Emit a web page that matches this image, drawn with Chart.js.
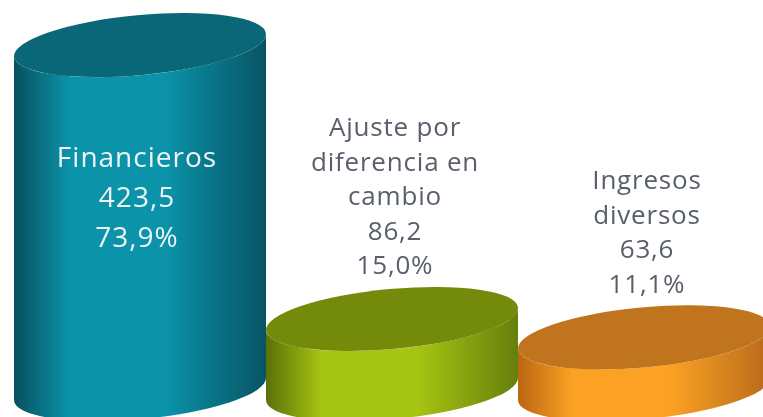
<!DOCTYPE html>
<html>
<head>
<meta charset="utf-8">
<script src="https://cdn.jsdelivr.net/npm/chart.js@4.4.1/dist/chart.umd.min.js"></script>
<style>
  html, body { margin: 0; padding: 0; background: #fff; overflow: hidden; }
  #wrap { position: relative; width: 790px; height: 417px; }
</style>
</head>
<body>
<div id="wrap"><canvas id="chart"></canvas></div>
<script>
/* ================= DATA ================= */
const categories = [['Financieros'], ['Ajuste por', 'diferencia en', 'cambio'], ['Ingresos', 'diversos']];
const values = [423.5, 86.2, 63.6];
const shares = [73.9, 15.0, 11.1];

/* ================= STYLE ================= */
const palette = [
  { top: '#0a6777', edge: '#07505e', mid: '#0b93aa', edge2: '#075463' },
  { top: '#748a0b', edge: '#5a7108', mid: '#a6c412', edge2: '#667f0c' },
  { top: '#c0741e', edge: '#bb6612', mid: '#fba224', edge2: '#b96a1a' }
];
const TILT = -0.092;   // ellipse rotation (right side higher)
const RY = 30;         // ellipse minor radius

const fmt = n => n.toFixed(1).replace('.', ',');

/* ================= CYLINDER PLUGIN ================= */
function ellipseGeom(halfW) {
  const s = Math.sin(TILT), c = Math.cos(TILT);
  const a = Math.sqrt((halfW * halfW - RY * RY * s * s) / (c * c));
  const t0 = Math.atan2(-RY * s, a * c);
  return { a, t0, s, c };
}
function pointAt(cx, cy, g, t) {
  return {
    x: cx + g.a * Math.cos(t) * g.c - RY * Math.sin(t) * g.s,
    y: cy + g.a * Math.cos(t) * g.s + RY * Math.sin(t) * g.c
  };
}

const cylinders = {
  id: 'cylinders',
  afterDatasetsDraw(chart) {
    const ctx = chart.ctx;
    const meta = chart.getDatasetMeta(0);
    meta.data.forEach((bar, i) => {
      const { x, y, base, width } = bar.getProps(['x', 'y', 'base', 'width'], true);
      const halfW = width / 2;
      const g = ellipseGeom(halfW);
      const tl = pointAt(x, y, g, g.t0 + Math.PI);
      const bl = pointAt(x, base, g, g.t0 + Math.PI);
      const tr = pointAt(x, y, g, g.t0);
      const col = palette[i];

      ctx.save();
      // body
      const grad = ctx.createLinearGradient(x - halfW, 0, x + halfW, 0);
      grad.addColorStop(0, col.edge);
      grad.addColorStop(0.22, col.mid);
      grad.addColorStop(0.6, col.mid);
      grad.addColorStop(1, col.edge2);
      ctx.beginPath();
      ctx.moveTo(tl.x, tl.y);
      ctx.lineTo(bl.x, bl.y);
      ctx.ellipse(x, base, g.a, RY, TILT, g.t0 + Math.PI, g.t0, true);
      ctx.lineTo(tr.x, tr.y);
      ctx.ellipse(x, y, g.a, RY, TILT, g.t0, g.t0 + Math.PI, false);
      ctx.closePath();
      ctx.fillStyle = grad;
      ctx.fill();
      // top
      ctx.beginPath();
      ctx.ellipse(x, y, g.a, RY, TILT, 0, Math.PI * 2);
      ctx.fillStyle = col.top;
      ctx.fill();

      // labels
      const lines = categories[i].concat([fmt(values[i]), fmt(shares[i]) + '%']);
      ctx.textAlign = 'center';
      ctx.textBaseline = 'middle';
      if (i === 0) {
        ctx.font = '28px "Open Sans", sans-serif';
        ctx.letterSpacing = '1px';
        ctx.fillStyle = '#eef4f5';
        const lh = 40;
        const y0 = y + 114;
        lines.forEach((t, k) => ctx.fillText(t, x - 3, y0 + k * lh));
      } else {
        ctx.font = '26px "Open Sans", sans-serif';
        ctx.letterSpacing = '0.8px';
        ctx.fillStyle = '#59606b';
        const lh = 34.5;
        const yLast = y - 52;
        lines.forEach((t, k) => ctx.fillText(t, x + 3, yLast - (lines.length - 1 - k) * lh));
      }
      ctx.restore();
    });
  }
};

/* ================= CHART ================= */
new Chart(document.getElementById('chart'), {
  type: 'bar',
  data: {
    labels: categories.map(c => c.join(' ')),
    datasets: [{
      data: values,
      backgroundColor: 'rgba(0,0,0,0)',
      borderWidth: 0,
      barPercentage: 1,
      categoryPercentage: 1
    }]
  },
  options: {
    responsive: true,
    maintainAspectRatio: false,
    animation: false,
    layout: { padding: { left: 14, right: 20, top: 0, bottom: 28 } },
    plugins: { legend: { display: false }, tooltip: { enabled: false } },
    scales: {
      x: { display: false },
      y: { display: false, min: 0, max: 479 }
    }
  },
  plugins: [cylinders]
});
</script>
</body>
</html>
